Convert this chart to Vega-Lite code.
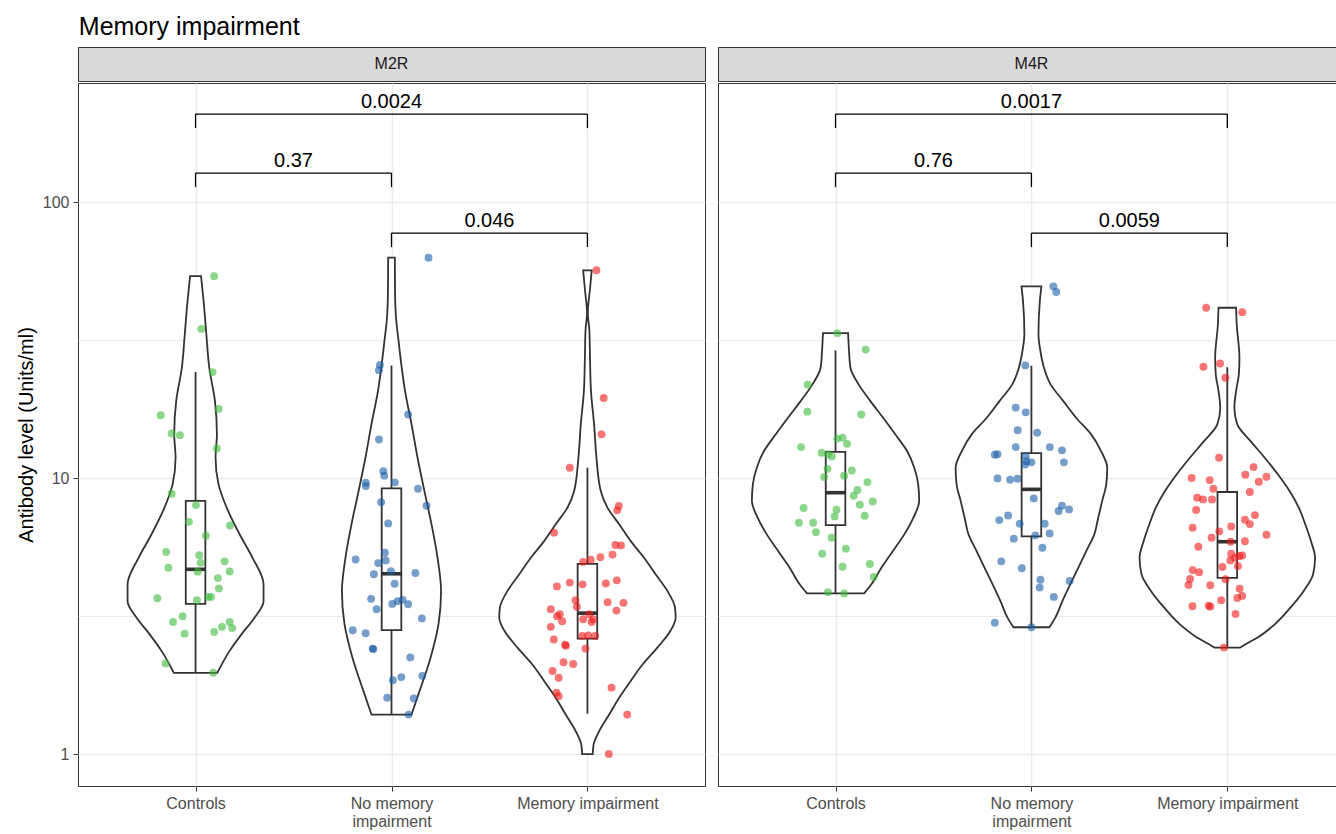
{
"$schema":"https://vega.github.io/schema/vega-lite/v6.json",
"padding":{"left":15,"top":14,"right":0,"bottom":0},
"title":{"text":"Memory impairment","anchor":"start","fontSize":25,"fontWeight":"normal","color":"#000000","offset":7,"dx":63},
"config":{"font":"Liberation Sans","view":{"stroke":"#333333","strokeWidth":1},
"axis":{"labelFontSize":16,"labelColor":"#4d4d4d","tickColor":"#333333","tickSize":5,"labelPadding":4,"domain":false,"gridColor":"#ebebeb","titleFontSize":20,"titleFontWeight":"normal","titleColor":"#000000"}},
"datasets":{
"points":[
{"p":"M2R","g":1,"x":1.095,"y":53.9},{"p":"M2R","g":1,"x":1.029,"y":34.7},{"p":"M2R","g":1,"x":1.087,"y":24.2},{"p":"M2R","g":1,"x":1.118,"y":17.8},{"p":"M2R","g":1,"x":0.822,"y":16.9},{"p":"M2R","g":1,"x":0.878,"y":14.5},{"p":"M2R","g":1,"x":0.92,"y":14.3},{"p":"M2R","g":1,"x":1.109,"y":12.8},{"p":"M2R","g":1,"x":0.878,"y":8.77},{"p":"M2R","g":1,"x":1.002,"y":7.98},{"p":"M2R","g":1,"x":0.966,"y":6.94},{"p":"M2R","g":1,"x":1.176,"y":6.73},{"p":"M2R","g":1,"x":1.053,"y":6.18},{"p":"M2R","g":1,"x":0.85,"y":5.4},{"p":"M2R","g":1,"x":1.019,"y":5.25},{"p":"M2R","g":1,"x":1.026,"y":4.93},{"p":"M2R","g":1,"x":1.148,"y":4.99},{"p":"M2R","g":1,"x":0.861,"y":4.73},{"p":"M2R","g":1,"x":1.011,"y":4.58},{"p":"M2R","g":1,"x":1.174,"y":4.59},{"p":"M2R","g":1,"x":1.114,"y":4.34},{"p":"M2R","g":1,"x":1.119,"y":3.98},{"p":"M2R","g":1,"x":0.805,"y":3.67},{"p":"M2R","g":1,"x":1.007,"y":3.61},{"p":"M2R","g":1,"x":1.065,"y":3.71},{"p":"M2R","g":1,"x":1.079,"y":3.71},{"p":"M2R","g":1,"x":0.934,"y":3.16},{"p":"M2R","g":1,"x":0.885,"y":3.01},{"p":"M2R","g":1,"x":1.174,"y":3.01},{"p":"M2R","g":1,"x":1.135,"y":2.89},{"p":"M2R","g":1,"x":1.187,"y":2.86},{"p":"M2R","g":1,"x":0.944,"y":2.73},{"p":"M2R","g":1,"x":1.095,"y":2.77},{"p":"M2R","g":1,"x":0.847,"y":2.13},{"p":"M2R","g":1,"x":1.09,"y":1.97},
{"p":"M2R","g":2,"x":2.189,"y":62.9},{"p":"M2R","g":2,"x":1.941,"y":25.7},{"p":"M2R","g":2,"x":1.936,"y":24.6},{"p":"M2R","g":2,"x":2.085,"y":17.0},{"p":"M2R","g":2,"x":1.936,"y":13.8},{"p":"M2R","g":2,"x":1.958,"y":10.6},{"p":"M2R","g":2,"x":1.963,"y":10.2},{"p":"M2R","g":2,"x":1.869,"y":9.62},{"p":"M2R","g":2,"x":1.869,"y":9.35},{"p":"M2R","g":2,"x":2.017,"y":9.65},{"p":"M2R","g":2,"x":2.135,"y":9.15},{"p":"M2R","g":2,"x":2.179,"y":7.94},{"p":"M2R","g":2,"x":1.947,"y":8.17},{"p":"M2R","g":2,"x":1.983,"y":6.85},{"p":"M2R","g":2,"x":1.966,"y":5.36},{"p":"M2R","g":2,"x":1.817,"y":5.07},{"p":"M2R","g":2,"x":1.932,"y":4.92},{"p":"M2R","g":2,"x":1.971,"y":5.03},{"p":"M2R","g":2,"x":1.91,"y":4.48},{"p":"M2R","g":2,"x":1.997,"y":4.6},{"p":"M2R","g":2,"x":2.122,"y":4.53},{"p":"M2R","g":2,"x":2.016,"y":4.14},{"p":"M2R","g":2,"x":1.896,"y":3.65},{"p":"M2R","g":2,"x":1.924,"y":3.35},{"p":"M2R","g":2,"x":2.004,"y":3.5},{"p":"M2R","g":2,"x":2.031,"y":3.58},{"p":"M2R","g":2,"x":2.057,"y":3.62},{"p":"M2R","g":2,"x":2.085,"y":3.49},{"p":"M2R","g":2,"x":2.155,"y":3.1},{"p":"M2R","g":2,"x":1.802,"y":2.81},{"p":"M2R","g":2,"x":1.868,"y":2.74},{"p":"M2R","g":2,"x":1.904,"y":2.41},{"p":"M2R","g":2,"x":1.907,"y":2.4},{"p":"M2R","g":2,"x":2.096,"y":2.24},{"p":"M2R","g":2,"x":2.007,"y":1.85},{"p":"M2R","g":2,"x":2.05,"y":1.9},{"p":"M2R","g":2,"x":2.157,"y":1.92},{"p":"M2R","g":2,"x":1.978,"y":1.6},{"p":"M2R","g":2,"x":2.114,"y":1.59},{"p":"M2R","g":2,"x":2.087,"y":1.39},
{"p":"M2R","g":3,"x":3.046,"y":56.6},{"p":"M2R","g":3,"x":3.083,"y":19.5},{"p":"M2R","g":3,"x":3.072,"y":14.4},{"p":"M2R","g":3,"x":2.91,"y":10.9},{"p":"M2R","g":3,"x":3.16,"y":7.92},{"p":"M2R","g":3,"x":3.152,"y":7.64},{"p":"M2R","g":3,"x":2.83,"y":6.34},{"p":"M2R","g":3,"x":3.143,"y":5.72},{"p":"M2R","g":3,"x":3.171,"y":5.7},{"p":"M2R","g":3,"x":3.128,"y":5.28},{"p":"M2R","g":3,"x":3.066,"y":5.17},{"p":"M2R","g":3,"x":3.017,"y":5.06},{"p":"M2R","g":3,"x":2.978,"y":4.97},{"p":"M2R","g":3,"x":3.15,"y":4.26},{"p":"M2R","g":3,"x":3.094,"y":4.15},{"p":"M2R","g":3,"x":2.975,"y":4.12},{"p":"M2R","g":3,"x":2.91,"y":4.18},{"p":"M2R","g":3,"x":2.844,"y":4.05},{"p":"M2R","g":3,"x":2.939,"y":3.61},{"p":"M2R","g":3,"x":2.946,"y":3.42},{"p":"M2R","g":3,"x":3.103,"y":3.55},{"p":"M2R","g":3,"x":3.184,"y":3.53},{"p":"M2R","g":3,"x":3.148,"y":3.31},{"p":"M2R","g":3,"x":2.813,"y":3.35},{"p":"M2R","g":3,"x":2.845,"y":3.16},{"p":"M2R","g":3,"x":2.871,"y":3.03},{"p":"M2R","g":3,"x":2.859,"y":3.21},{"p":"M2R","g":3,"x":2.978,"y":3.08},{"p":"M2R","g":3,"x":3.009,"y":3.21},{"p":"M2R","g":3,"x":3.029,"y":3.08},{"p":"M2R","g":3,"x":3.021,"y":3.01},{"p":"M2R","g":3,"x":2.813,"y":2.89},{"p":"M2R","g":3,"x":2.828,"y":2.6},{"p":"M2R","g":3,"x":2.886,"y":2.49},{"p":"M2R","g":3,"x":2.89,"y":2.47},{"p":"M2R","g":3,"x":2.973,"y":2.68},{"p":"M2R","g":3,"x":3.004,"y":2.69},{"p":"M2R","g":3,"x":3.039,"y":2.68},{"p":"M2R","g":3,"x":2.99,"y":2.41},{"p":"M2R","g":3,"x":2.878,"y":2.15},{"p":"M2R","g":3,"x":2.927,"y":2.12},{"p":"M2R","g":3,"x":2.822,"y":2.0},{"p":"M2R","g":3,"x":2.853,"y":1.89},{"p":"M2R","g":3,"x":3.123,"y":1.74},{"p":"M2R","g":3,"x":2.842,"y":1.67},{"p":"M2R","g":3,"x":2.853,"y":1.62},{"p":"M2R","g":3,"x":3.203,"y":1.39},{"p":"M2R","g":3,"x":3.109,"y":1.0},
{"p":"M4R","g":1,"x":1.009,"y":33.5},{"p":"M4R","g":1,"x":1.154,"y":29.2},{"p":"M4R","g":1,"x":0.858,"y":21.8},{"p":"M4R","g":1,"x":0.856,"y":17.4},{"p":"M4R","g":1,"x":1.131,"y":17.0},{"p":"M4R","g":1,"x":1.009,"y":13.9},{"p":"M4R","g":1,"x":1.036,"y":14.0},{"p":"M4R","g":1,"x":1.059,"y":13.3},{"p":"M4R","g":1,"x":0.824,"y":12.95},{"p":"M4R","g":1,"x":0.929,"y":12.35},{"p":"M4R","g":1,"x":0.961,"y":12.2},{"p":"M4R","g":1,"x":0.981,"y":11.98},{"p":"M4R","g":1,"x":0.959,"y":10.8},{"p":"M4R","g":1,"x":1.083,"y":10.66},{"p":"M4R","g":1,"x":0.942,"y":10.08},{"p":"M4R","g":1,"x":1.044,"y":10.2},{"p":"M4R","g":1,"x":1.163,"y":9.67},{"p":"M4R","g":1,"x":1.112,"y":9.05},{"p":"M4R","g":1,"x":1.093,"y":8.63},{"p":"M4R","g":1,"x":1.19,"y":8.23},{"p":"M4R","g":1,"x":1.124,"y":8.01},{"p":"M4R","g":1,"x":0.837,"y":7.79},{"p":"M4R","g":1,"x":1.005,"y":7.68},{"p":"M4R","g":1,"x":0.995,"y":7.26},{"p":"M4R","g":1,"x":1.149,"y":7.3},{"p":"M4R","g":1,"x":0.813,"y":6.89},{"p":"M4R","g":1,"x":0.886,"y":6.89},{"p":"M4R","g":1,"x":0.9,"y":6.36},{"p":"M4R","g":1,"x":0.98,"y":6.08},{"p":"M4R","g":1,"x":1.053,"y":5.55},{"p":"M4R","g":1,"x":0.932,"y":5.32},{"p":"M4R","g":1,"x":1.036,"y":4.77},{"p":"M4R","g":1,"x":1.175,"y":4.88},{"p":"M4R","g":1,"x":1.195,"y":4.38},{"p":"M4R","g":1,"x":0.961,"y":3.86},{"p":"M4R","g":1,"x":1.044,"y":3.82},
{"p":"M4R","g":2,"x":2.112,"y":49.5},{"p":"M4R","g":2,"x":2.127,"y":47.2},{"p":"M4R","g":2,"x":1.969,"y":25.6},{"p":"M4R","g":2,"x":1.92,"y":18.0},{"p":"M4R","g":2,"x":1.971,"y":17.3},{"p":"M4R","g":2,"x":1.93,"y":14.9},{"p":"M4R","g":2,"x":2.029,"y":14.6},{"p":"M4R","g":2,"x":1.92,"y":12.95},{"p":"M4R","g":2,"x":2.094,"y":12.95},{"p":"M4R","g":2,"x":1.813,"y":12.15},{"p":"M4R","g":2,"x":1.827,"y":12.2},{"p":"M4R","g":2,"x":1.971,"y":12.0},{"p":"M4R","g":2,"x":1.975,"y":11.5},{"p":"M4R","g":2,"x":2.0,"y":11.4},{"p":"M4R","g":2,"x":1.968,"y":11.2},{"p":"M4R","g":2,"x":1.827,"y":9.97},{"p":"M4R","g":2,"x":1.891,"y":9.86},{"p":"M4R","g":2,"x":1.929,"y":9.94},{"p":"M4R","g":2,"x":2.012,"y":8.44},{"p":"M4R","g":2,"x":1.836,"y":7.04},{"p":"M4R","g":2,"x":1.881,"y":7.32},{"p":"M4R","g":2,"x":1.94,"y":6.83},{"p":"M4R","g":2,"x":2.068,"y":6.83},{"p":"M4R","g":2,"x":2.093,"y":6.3},{"p":"M4R","g":2,"x":1.91,"y":6.03},{"p":"M4R","g":2,"x":2.02,"y":6.2},{"p":"M4R","g":2,"x":2.056,"y":5.59},{"p":"M4R","g":2,"x":1.846,"y":4.99},{"p":"M4R","g":2,"x":1.951,"y":4.71},{"p":"M4R","g":2,"x":2.046,"y":4.28},{"p":"M4R","g":2,"x":2.042,"y":4.01},{"p":"M4R","g":2,"x":1.813,"y":2.99},{"p":"M4R","g":2,"x":2.0,"y":2.88},{"p":"M4R","g":2,"x":2.156,"y":12.6},{"p":"M4R","g":2,"x":2.166,"y":11.4},{"p":"M4R","g":2,"x":2.156,"y":7.94},{"p":"M4R","g":2,"x":2.139,"y":7.6},{"p":"M4R","g":2,"x":2.192,"y":7.7},{"p":"M4R","g":2,"x":2.195,"y":4.24},{"p":"M4R","g":2,"x":2.114,"y":3.71},
{"p":"M4R","g":3,"x":2.892,"y":41.4},{"p":"M4R","g":3,"x":3.076,"y":39.9},{"p":"M4R","g":3,"x":2.878,"y":25.3},{"p":"M4R","g":3,"x":2.963,"y":26.0},{"p":"M4R","g":3,"x":2.99,"y":23.1},{"p":"M4R","g":3,"x":2.958,"y":11.85},{"p":"M4R","g":3,"x":3.134,"y":10.96},{"p":"M4R","g":3,"x":3.092,"y":10.28},{"p":"M4R","g":3,"x":3.2,"y":10.11},{"p":"M4R","g":3,"x":2.818,"y":10.0},{"p":"M4R","g":3,"x":2.91,"y":9.83},{"p":"M4R","g":3,"x":3.161,"y":9.7},{"p":"M4R","g":3,"x":2.929,"y":9.15},{"p":"M4R","g":3,"x":3.115,"y":8.9},{"p":"M4R","g":3,"x":2.846,"y":8.49},{"p":"M4R","g":3,"x":2.876,"y":8.37},{"p":"M4R","g":3,"x":2.922,"y":8.37},{"p":"M4R","g":3,"x":2.841,"y":7.66},{"p":"M4R","g":3,"x":3.09,"y":7.06},{"p":"M4R","g":3,"x":3.141,"y":7.34},{"p":"M4R","g":3,"x":3.115,"y":6.81},{"p":"M4R","g":3,"x":2.823,"y":6.61},{"p":"M4R","g":3,"x":3.02,"y":6.68},{"p":"M4R","g":3,"x":2.959,"y":6.41},{"p":"M4R","g":3,"x":3.2,"y":6.23},{"p":"M4R","g":3,"x":2.92,"y":6.08},{"p":"M4R","g":3,"x":3.09,"y":5.9},{"p":"M4R","g":3,"x":3.017,"y":5.88},{"p":"M4R","g":3,"x":2.852,"y":5.64},{"p":"M4R","g":3,"x":3.02,"y":5.32},{"p":"M4R","g":3,"x":3.061,"y":5.22},{"p":"M4R","g":3,"x":3.076,"y":5.24},{"p":"M4R","g":3,"x":3.039,"y":5.14},{"p":"M4R","g":3,"x":3.015,"y":5.03},{"p":"M4R","g":3,"x":3.054,"y":4.8},{"p":"M4R","g":3,"x":2.975,"y":4.76},{"p":"M4R","g":3,"x":2.823,"y":4.64},{"p":"M4R","g":3,"x":2.856,"y":4.56},{"p":"M4R","g":3,"x":2.81,"y":4.31},{"p":"M4R","g":3,"x":2.991,"y":4.3},{"p":"M4R","g":3,"x":2.802,"y":4.1},{"p":"M4R","g":3,"x":2.913,"y":4.09},{"p":"M4R","g":3,"x":3.063,"y":3.97},{"p":"M4R","g":3,"x":3.076,"y":3.74},{"p":"M4R","g":3,"x":3.051,"y":3.68},{"p":"M4R","g":3,"x":2.969,"y":3.61},{"p":"M4R","g":3,"x":2.822,"y":3.43},{"p":"M4R","g":3,"x":2.905,"y":3.45},{"p":"M4R","g":3,"x":2.913,"y":3.42},{"p":"M4R","g":3,"x":3.042,"y":3.22},{"p":"M4R","g":3,"x":2.983,"y":2.43}
],
"violins":[
{"p":"M2R","g":1,"y":1.97,"w":0.111},{"p":"M2R","g":1,"y":2.36,"w":0.173},{"p":"M2R","g":1,"y":2.72,"w":0.235},{"p":"M2R","g":1,"y":3.12,"w":0.301},{"p":"M2R","g":1,"y":3.58,"w":0.347},{"p":"M2R","g":1,"y":4.12,"w":0.347},{"p":"M2R","g":1,"y":5.14,"w":0.291},{"p":"M2R","g":1,"y":6.27,"w":0.224},{"p":"M2R","g":1,"y":7.6,"w":0.166},{"p":"M2R","g":1,"y":9.51,"w":0.117},{"p":"M2R","g":1,"y":11.85,"w":0.102},{"p":"M2R","g":1,"y":14.4,"w":0.109},{"p":"M2R","g":1,"y":19.0,"w":0.099},{"p":"M2R","g":1,"y":25.1,"w":0.07},{"p":"M2R","g":1,"y":33.2,"w":0.055},{"p":"M2R","g":1,"y":43.8,"w":0.041},{"p":"M2R","g":1,"y":53.9,"w":0.028},
{"p":"M2R","g":2,"y":1.39,"w":0.102},{"p":"M2R","g":2,"y":1.69,"w":0.143},{"p":"M2R","g":2,"y":2.23,"w":0.199},{"p":"M2R","g":2,"y":2.96,"w":0.24},{"p":"M2R","g":2,"y":3.9,"w":0.253},{"p":"M2R","g":2,"y":5.14,"w":0.235},{"p":"M2R","g":2,"y":6.81,"w":0.204},{"p":"M2R","g":2,"y":8.97,"w":0.168},{"p":"M2R","g":2,"y":11.85,"w":0.133},{"p":"M2R","g":2,"y":15.7,"w":0.102},{"p":"M2R","g":2,"y":20.7,"w":0.069},{"p":"M2R","g":2,"y":25.5,"w":0.051},{"p":"M2R","g":2,"y":31.4,"w":0.036},{"p":"M2R","g":2,"y":38.1,"w":0.023},{"p":"M2R","g":2,"y":47.6,"w":0.018},{"p":"M2R","g":2,"y":62.9,"w":0.017},
{"p":"M2R","g":3,"y":1.0,"w":0.027},{"p":"M2R","g":3,"y":1.08,"w":0.031},{"p":"M2R","g":3,"y":1.21,"w":0.06},{"p":"M2R","g":3,"y":1.39,"w":0.111},{"p":"M2R","g":3,"y":1.6,"w":0.162},{"p":"M2R","g":3,"y":1.84,"w":0.221},{"p":"M2R","g":3,"y":2.11,"w":0.281},{"p":"M2R","g":3,"y":2.43,"w":0.357},{"p":"M2R","g":3,"y":2.79,"w":0.423},{"p":"M2R","g":3,"y":3.12,"w":0.45},{"p":"M2R","g":3,"y":3.39,"w":0.447},{"p":"M2R","g":3,"y":3.9,"w":0.408},{"p":"M2R","g":3,"y":4.48,"w":0.348},{"p":"M2R","g":3,"y":5.14,"w":0.289},{"p":"M2R","g":3,"y":5.91,"w":0.221},{"p":"M2R","g":3,"y":6.8,"w":0.162},{"p":"M2R","g":3,"y":7.81,"w":0.102},{"p":"M2R","g":3,"y":8.97,"w":0.068},{"p":"M2R","g":3,"y":11.85,"w":0.046},{"p":"M2R","g":3,"y":15.65,"w":0.034},{"p":"M2R","g":3,"y":20.7,"w":0.018},{"p":"M2R","g":3,"y":27.3,"w":0.013},{"p":"M2R","g":3,"y":34.1,"w":0.01},{"p":"M2R","g":3,"y":39.7,"w":0.002},{"p":"M2R","g":3,"y":47.6,"w":0.012},{"p":"M2R","g":3,"y":56.6,"w":0.022},
{"p":"M4R","g":1,"y":3.82,"w":0.146},{"p":"M4R","g":1,"y":4.12,"w":0.183},{"p":"M4R","g":1,"y":4.73,"w":0.234},{"p":"M4R","g":1,"y":5.44,"w":0.293},{"p":"M4R","g":1,"y":6.25,"w":0.351},{"p":"M4R","g":1,"y":7.18,"w":0.397},{"p":"M4R","g":1,"y":8.25,"w":0.427},{"p":"M4R","g":1,"y":9.49,"w":0.422},{"p":"M4R","g":1,"y":10.9,"w":0.402},{"p":"M4R","g":1,"y":12.5,"w":0.366},{"p":"M4R","g":1,"y":14.4,"w":0.305},{"p":"M4R","g":1,"y":16.5,"w":0.244},{"p":"M4R","g":1,"y":19.0,"w":0.178},{"p":"M4R","g":1,"y":21.9,"w":0.117},{"p":"M4R","g":1,"y":25.1,"w":0.076},{"p":"M4R","g":1,"y":28.8,"w":0.069},{"p":"M4R","g":1,"y":33.5,"w":0.064},
{"p":"M4R","g":2,"y":2.88,"w":0.092},{"p":"M4R","g":2,"y":3.12,"w":0.122},{"p":"M4R","g":2,"y":3.58,"w":0.158},{"p":"M4R","g":2,"y":4.12,"w":0.198},{"p":"M4R","g":2,"y":4.73,"w":0.239},{"p":"M4R","g":2,"y":5.44,"w":0.28},{"p":"M4R","g":2,"y":6.25,"w":0.321},{"p":"M4R","g":2,"y":7.18,"w":0.341},{"p":"M4R","g":2,"y":8.25,"w":0.361},{"p":"M4R","g":2,"y":9.49,"w":0.382},{"p":"M4R","g":2,"y":10.9,"w":0.387},{"p":"M4R","g":2,"y":12.5,"w":0.356},{"p":"M4R","g":2,"y":14.4,"w":0.305},{"p":"M4R","g":2,"y":16.5,"w":0.229},{"p":"M4R","g":2,"y":19.0,"w":0.163},{"p":"M4R","g":2,"y":21.9,"w":0.097},{"p":"M4R","g":2,"y":25.1,"w":0.064},{"p":"M4R","g":2,"y":28.8,"w":0.046},{"p":"M4R","g":2,"y":33.2,"w":0.036},{"p":"M4R","g":2,"y":43.8,"w":0.043},{"p":"M4R","g":2,"y":49.5,"w":0.051},
{"p":"M4R","g":3,"y":2.43,"w":0.066},{"p":"M4R","g":3,"y":2.5,"w":0.093},{"p":"M4R","g":3,"y":2.64,"w":0.153},{"p":"M4R","g":3,"y":2.95,"w":0.242},{"p":"M4R","g":3,"y":3.39,"w":0.322},{"p":"M4R","g":3,"y":3.9,"w":0.39},{"p":"M4R","g":3,"y":4.48,"w":0.438},{"p":"M4R","g":3,"y":5.14,"w":0.448},{"p":"M4R","g":3,"y":5.91,"w":0.427},{"p":"M4R","g":3,"y":6.8,"w":0.398},{"p":"M4R","g":3,"y":7.81,"w":0.365},{"p":"M4R","g":3,"y":8.97,"w":0.318},{"p":"M4R","g":3,"y":10.3,"w":0.259},{"p":"M4R","g":3,"y":11.85,"w":0.191},{"p":"M4R","g":3,"y":13.6,"w":0.119},{"p":"M4R","g":3,"y":15.65,"w":0.051},{"p":"M4R","g":3,"y":17.97,"w":0.036},{"p":"M4R","g":3,"y":20.7,"w":0.045},{"p":"M4R","g":3,"y":23.8,"w":0.059},{"p":"M4R","g":3,"y":27.3,"w":0.062},{"p":"M4R","g":3,"y":36.1,"w":0.048},{"p":"M4R","g":3,"y":41.4,"w":0.045}
],
"boxes":[
{"p":"M2R","g":1,"lo":1.97,"q1":3.5,"med":4.67,"q3":8.26,"hi":24.2},
{"p":"M2R","g":2,"lo":1.39,"q1":2.81,"med":4.5,"q3":9.18,"hi":25.6},
{"p":"M2R","g":3,"lo":1.4,"q1":2.62,"med":3.24,"q3":4.89,"hi":10.9},
{"p":"M4R","g":1,"lo":3.82,"q1":6.75,"med":8.85,"q3":12.45,"hi":29.0},
{"p":"M4R","g":2,"lo":2.88,"q1":6.15,"med":9.1,"q3":12.32,"hi":25.5},
{"p":"M4R","g":3,"lo":2.43,"q1":4.35,"med":5.88,"q3":8.9,"hi":25.2}
],
"brackets":[
{"p":"M2R","g1":1,"g2":3,"yt":208.4,"yb":185.4,"label":"0.0024"},
{"p":"M2R","g1":1,"g2":2,"yt":127.4,"yb":113.3,"label":"0.37"},
{"p":"M2R","g1":2,"g2":3,"yt":77.2,"yb":68.7,"label":"0.046"},
{"p":"M4R","g1":1,"g2":3,"yt":208.4,"yb":185.4,"label":"0.0017"},
{"p":"M4R","g1":1,"g2":2,"yt":127.4,"yb":113.3,"label":"0.76"},
{"p":"M4R","g1":2,"g2":3,"yt":77.2,"yb":68.7,"label":"0.0059"}
]
},
"hconcat":[
{"vconcat":[
{"width":627,"height":34,"view":{"fill":"#d9d9d9","stroke":"#333333"},"data":{"values":[{"panel":"M2R"}]},"mark":{"type":"text","fontSize":16,"color":"#1a1a1a","baseline":"middle"},"encoding":{"text":{"field":"panel"}}},
{"width":627,"height":703,
"layer":[
{"data":{"name":"violins"},"transform":[{"filter":"datum.p=='M2R'"},{"calculate":"datum.g-datum.w","as":"lo"},{"calculate":"datum.g+datum.w","as":"hi"}],
"mark":{"type":"area","orient":"horizontal","interpolate":"monotone","fill":"white","stroke":"#333333","strokeWidth":1.8},
"encoding":{
"y":{"field":"y","type":"quantitative","scale":{"type":"log","domain":[0.766,270],"nice":false},
"axis":{"values":[1,3.1623,10,31.623,100],"labelExpr":"datum.value==1?'1':datum.value==10?'10':datum.value==100?'100':''","title":"Antibody level (Units/ml)","titlePadding":6,
"tickOpacity":{"condition":{"test":"datum.value==1||datum.value==10||datum.value==100","value":1},"value":0},
"gridWidth":{"condition":{"test":"datum.value==1||datum.value==10||datum.value==100","value":1.5},"value":1}}},
"x":{"field":"lo","type":"quantitative","stack":null,"scale":{"domain":[0.4,3.6],"nice":false,"zero":false},
"axis":{"values":[1,2,3],"labelExpr":"datum.value==1?'Controls':datum.value==2?['No memory','impairment']:'Memory impairment'","title":null,"grid":true,"gridWidth":1.5,"labelFlush":false,"labelLineHeight":18}},
"x2":{"field":"hi"},
"detail":{"field":"g"}}},
{"data":{"name":"boxes"},"transform":[{"filter":"datum.p=='M2R'"}],"mark":{"type":"rule","color":"#333333","strokeWidth":1.8},
"encoding":{"x":{"field":"g","type":"quantitative"},"y":{"field":"lo","type":"quantitative"},"y2":{"field":"hi"}}},
{"data":{"name":"boxes"},"transform":[{"filter":"datum.p=='M2R'"},{"calculate":"datum.g-0.05","as":"bl"},{"calculate":"datum.g+0.05","as":"br"}],"mark":{"type":"rect","fill":"white","stroke":"#333333","strokeWidth":1.8},
"encoding":{"x":{"field":"bl","type":"quantitative"},"x2":{"field":"br"},"y":{"field":"q1","type":"quantitative"},"y2":{"field":"q3"}}},
{"data":{"name":"boxes"},"transform":[{"filter":"datum.p=='M2R'"},{"calculate":"datum.g-0.05","as":"bl"},{"calculate":"datum.g+0.05","as":"br"}],"mark":{"type":"rule","color":"#333333","strokeWidth":3.6},
"encoding":{"x":{"field":"bl","type":"quantitative"},"x2":{"field":"br"},"y":{"field":"med","type":"quantitative"}}},
{"data":{"name":"points"},"transform":[{"filter":"datum.p=='M2R'"}],"mark":{"type":"circle","size":62,"opacity":0.6},
"encoding":{"x":{"field":"x","type":"quantitative"},"y":{"field":"y","type":"quantitative"},"color":{"field":"g","type":"nominal","scale":{"domain":[1,2,3],"range":["#3dbb3d","#1a5ea8","#f01818"]},"legend":null}}},
{"data":{"name":"brackets"},"transform":[{"filter":"datum.p=='M2R'"}],"mark":{"type":"rule","color":"#000000","strokeWidth":1.3},
"encoding":{"x":{"field":"g1","type":"quantitative"},"x2":{"field":"g2"},"y":{"field":"yt","type":"quantitative"}}},
{"data":{"name":"brackets"},"transform":[{"filter":"datum.p=='M2R'"}],"mark":{"type":"rule","color":"#000000","strokeWidth":1.3},
"encoding":{"x":{"field":"g1","type":"quantitative"},"y":{"field":"yt","type":"quantitative"},"y2":{"field":"yb"}}},
{"data":{"name":"brackets"},"transform":[{"filter":"datum.p=='M2R'"}],"mark":{"type":"rule","color":"#000000","strokeWidth":1.3},
"encoding":{"x":{"field":"g2","type":"quantitative"},"y":{"field":"yt","type":"quantitative"},"y2":{"field":"yb"}}},
{"data":{"name":"brackets"},"transform":[{"filter":"datum.p=='M2R'"},{"calculate":"(datum.g1+datum.g2)/2","as":"xm"}],"mark":{"type":"text","fontSize":20,"color":"#000000","baseline":"alphabetic","dy":-6},
"encoding":{"x":{"field":"xm","type":"quantitative"},"y":{"field":"yt","type":"quantitative"},"text":{"field":"label"}}}
]}
],"spacing":0},
{"vconcat":[
{"width":619,"height":34,"view":{"fill":"#d9d9d9","stroke":"#333333"},"data":{"values":[{"panel":"M4R"}]},"mark":{"type":"text","fontSize":16,"color":"#1a1a1a","baseline":"middle","dx":4},"encoding":{"text":{"field":"panel"}}},
{"width":619,"height":703,
"layer":[
{"data":{"name":"violins"},"transform":[{"filter":"datum.p=='M4R'"},{"calculate":"datum.g-datum.w","as":"lo"},{"calculate":"datum.g+datum.w","as":"hi"}],
"mark":{"type":"area","orient":"horizontal","interpolate":"monotone","fill":"white","stroke":"#333333","strokeWidth":1.8},
"encoding":{
"y":{"field":"y","type":"quantitative","scale":{"type":"log","domain":[0.766,270],"nice":false},
"axis":{"values":[1,3.1623,10,31.623,100],"labels":false,"ticks":false,"title":null,
"gridWidth":{"condition":{"test":"datum.value==1||datum.value==10||datum.value==100","value":1.5},"value":1}}},
"x":{"field":"lo","type":"quantitative","stack":null,"scale":{"domain":[0.4,3.56],"nice":false,"zero":false},
"axis":{"values":[1,2,3],"labelExpr":"datum.value==1?'Controls':datum.value==2?['No memory','impairment']:'Memory impairment'","title":null,"grid":true,"gridWidth":1.5,"labelFlush":false,"labelLineHeight":18}},
"x2":{"field":"hi"},
"detail":{"field":"g"}}},
{"data":{"name":"boxes"},"transform":[{"filter":"datum.p=='M4R'"}],"mark":{"type":"rule","color":"#333333","strokeWidth":1.8},
"encoding":{"x":{"field":"g","type":"quantitative"},"y":{"field":"lo","type":"quantitative"},"y2":{"field":"hi"}}},
{"data":{"name":"boxes"},"transform":[{"filter":"datum.p=='M4R'"},{"calculate":"datum.g-0.05","as":"bl"},{"calculate":"datum.g+0.05","as":"br"}],"mark":{"type":"rect","fill":"white","stroke":"#333333","strokeWidth":1.8},
"encoding":{"x":{"field":"bl","type":"quantitative"},"x2":{"field":"br"},"y":{"field":"q1","type":"quantitative"},"y2":{"field":"q3"}}},
{"data":{"name":"boxes"},"transform":[{"filter":"datum.p=='M4R'"},{"calculate":"datum.g-0.05","as":"bl"},{"calculate":"datum.g+0.05","as":"br"}],"mark":{"type":"rule","color":"#333333","strokeWidth":3.6},
"encoding":{"x":{"field":"bl","type":"quantitative"},"x2":{"field":"br"},"y":{"field":"med","type":"quantitative"}}},
{"data":{"name":"points"},"transform":[{"filter":"datum.p=='M4R'"}],"mark":{"type":"circle","size":62,"opacity":0.6},
"encoding":{"x":{"field":"x","type":"quantitative"},"y":{"field":"y","type":"quantitative"},"color":{"field":"g","type":"nominal","scale":{"domain":[1,2,3],"range":["#3dbb3d","#1a5ea8","#f01818"]},"legend":null}}},
{"data":{"name":"brackets"},"transform":[{"filter":"datum.p=='M4R'"}],"mark":{"type":"rule","color":"#000000","strokeWidth":1.3},
"encoding":{"x":{"field":"g1","type":"quantitative"},"x2":{"field":"g2"},"y":{"field":"yt","type":"quantitative"}}},
{"data":{"name":"brackets"},"transform":[{"filter":"datum.p=='M4R'"}],"mark":{"type":"rule","color":"#000000","strokeWidth":1.3},
"encoding":{"x":{"field":"g1","type":"quantitative"},"y":{"field":"yt","type":"quantitative"},"y2":{"field":"yb"}}},
{"data":{"name":"brackets"},"transform":[{"filter":"datum.p=='M4R'"}],"mark":{"type":"rule","color":"#000000","strokeWidth":1.3},
"encoding":{"x":{"field":"g2","type":"quantitative"},"y":{"field":"yt","type":"quantitative"},"y2":{"field":"yb"}}},
{"data":{"name":"brackets"},"transform":[{"filter":"datum.p=='M4R'"},{"calculate":"(datum.g1+datum.g2)/2","as":"xm"}],"mark":{"type":"text","fontSize":20,"color":"#000000","baseline":"alphabetic","dy":-6},
"encoding":{"x":{"field":"xm","type":"quantitative"},"y":{"field":"yt","type":"quantitative"},"text":{"field":"label"}}}
]}
],"spacing":0}
],
"spacing":11
}
